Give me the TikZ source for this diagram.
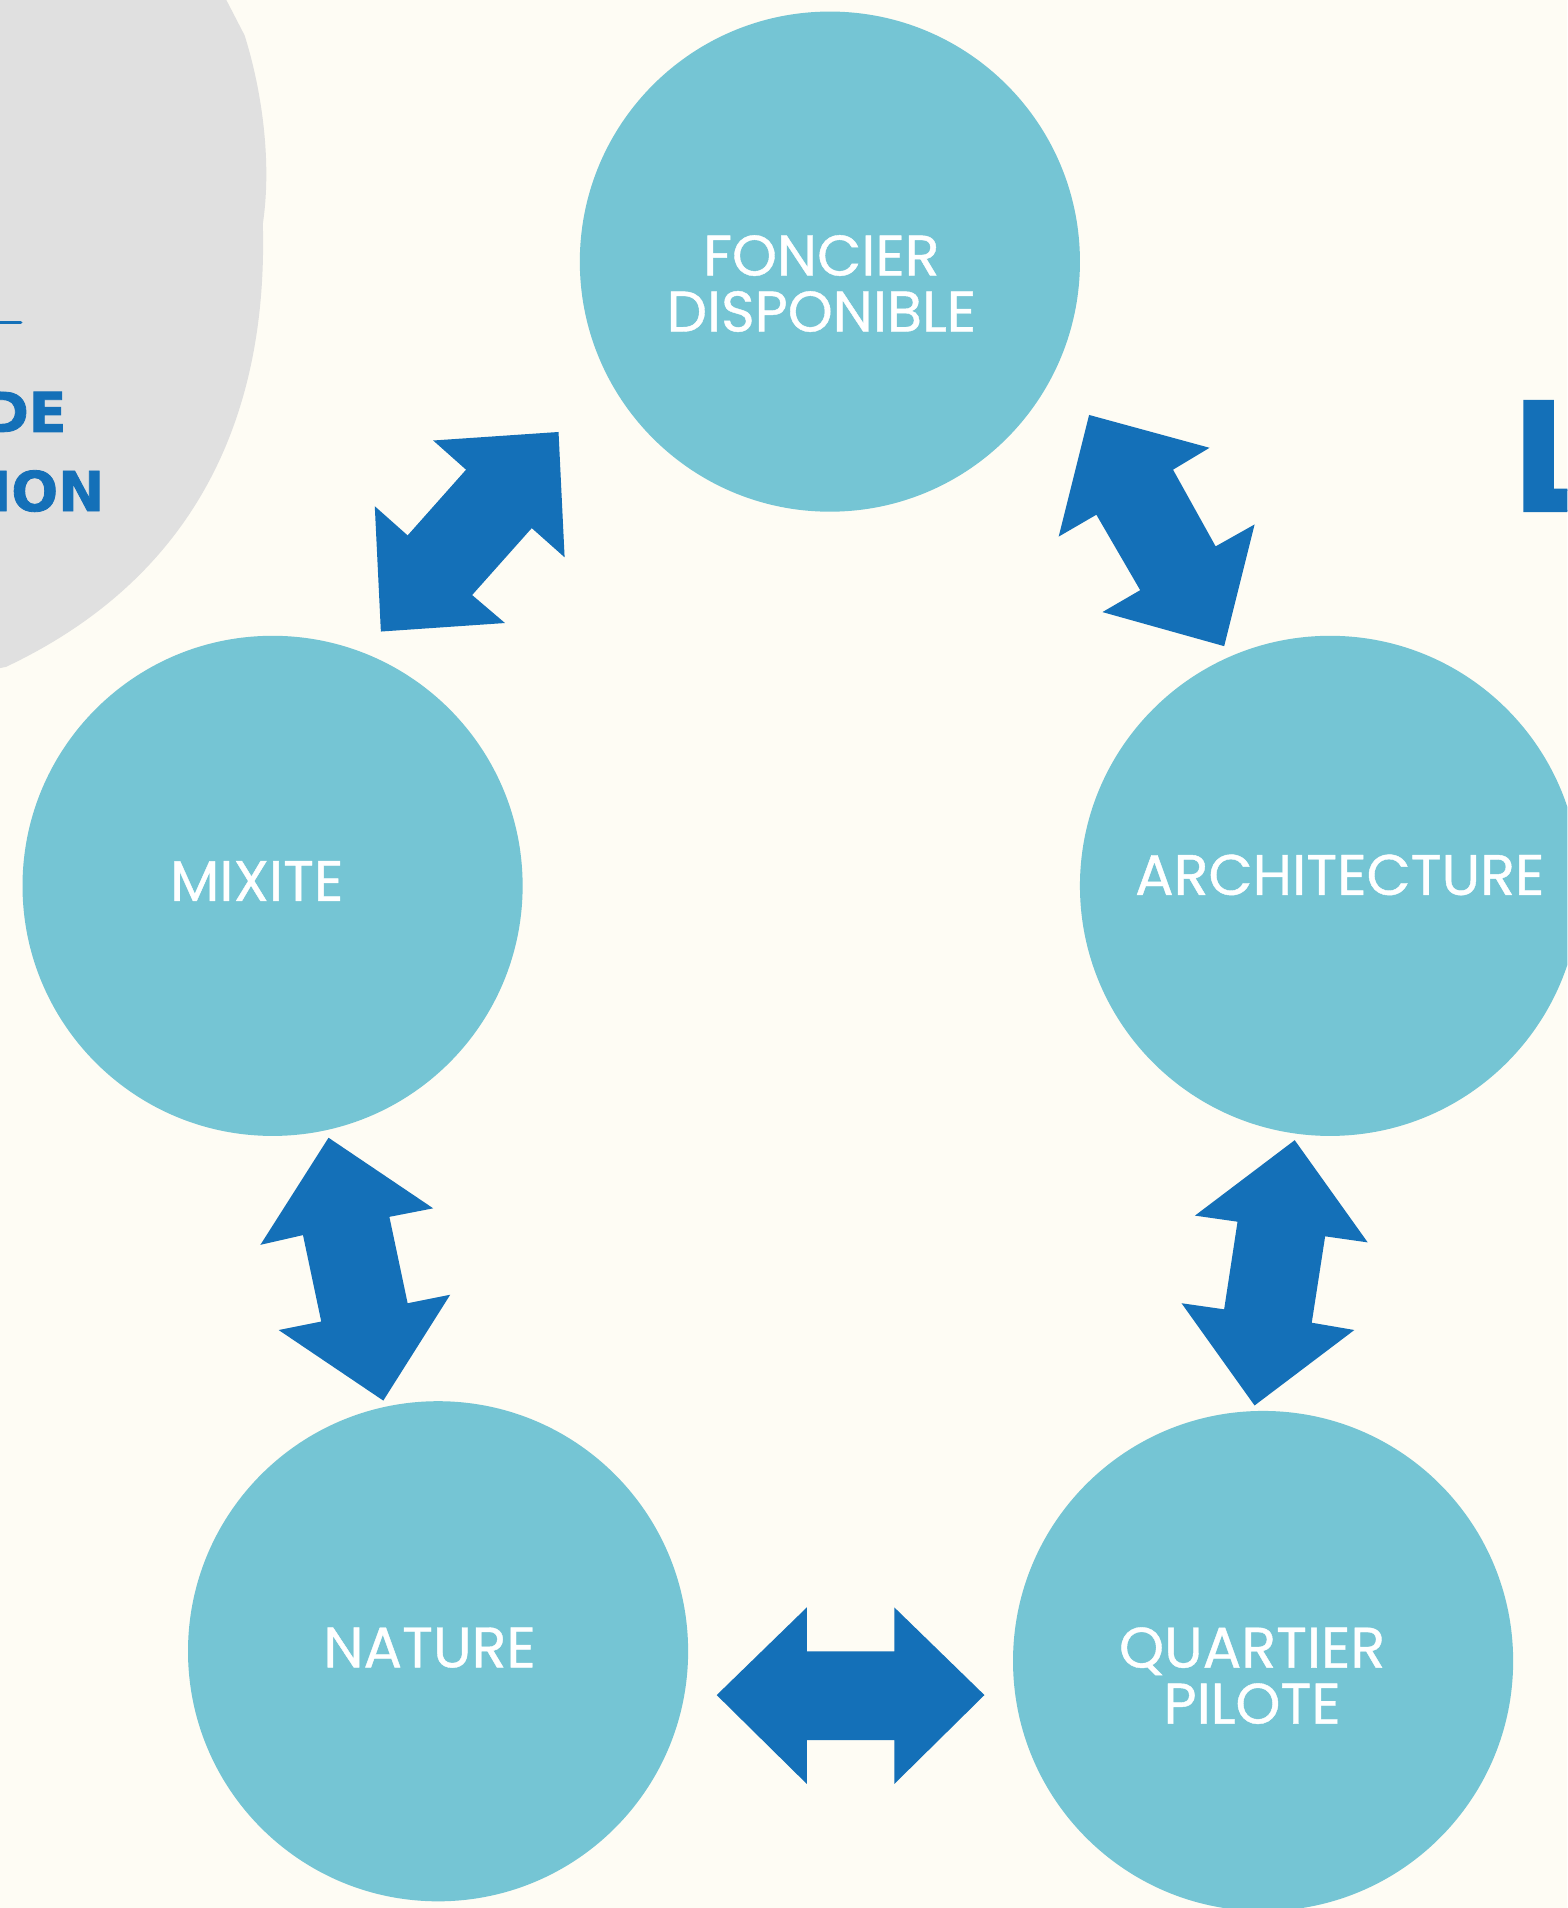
\documentclass[tikz,border=0pt]{standalone}
\usepackage{fontspec}
\setmainfont{Poppins}
\newfontfamily\lblfont{Poppins}[FakeBold=0.7]
\newfontfamily\heavyfont{DejaVu Sans}[FakeBold=1.5]
\definecolor{bgc}{HTML}{FEFCF4}
\definecolor{bubblec}{HTML}{75C5D4}
\definecolor{arrowc}{HTML}{1470B8}
\definecolor{greyc}{HTML}{E0E0E0}
\begin{document}
\begin{tikzpicture}[x=0.5pt,y=-0.5pt,
  bubble/.style={circle,fill=bubblec,minimum size=205.5pt,inner sep=0pt},
  lbl/.style={text=white,align=center,font=\lblfont\fontsize{23.5}{23}\selectfont},
  heavy/.style={text=arrowc,inner sep=0pt,font=\heavyfont\bfseries\fontsize{22.6}{22}\selectfont},
  blockarrow/.style={fill=arrowc}]
\useasboundingbox (0,0) rectangle (1288,1568);
\clip (0,0) rectangle (1288,1568);
\fill[bgc] (0,0) rectangle (1288,1568);
% grey backdrop
\fill[greyc] (0,0) -- (186,0) -- (201,29) .. controls (214,70) and (224,130) .. (216,184)
  .. controls (220,330) and (170,470) .. (5,548)
  -- (0,549) -- cycle;
\draw[arrowc,line width=1.5pt,line cap=round] (-5,265) -- (17,265);
\node[heavy,anchor=base east] (de) at (55,355) {DE};
\node[heavy,anchor=base east] (ion) at (86,420) {ION};
\node[heavy,anchor=base west,font=\heavyfont\bfseries\fontsize{62}{62}\selectfont] (bigL) at (1241,420) {L};
% bubbles
\node[bubble] (fon) at (682,215) {};
\node[bubble] (arc) at (1093,728) {};
\node[bubble] (mix) at (224,728) {};
\node[bubble] (nat) at (360,1357) {};
\node[bubble] (qua) at (1038,1365) {};
\node[lbl] (tfon) at (675,233) {FONCIER\\DISPONIBLE};
\node[lbl] (tarc) at (1101,719) {ARCHITECTURE};
\node[lbl] (tmix) at (211,724) {MIXITE};
\node[lbl] (tnat) at (353,1354) {NATURE};
\node[lbl] (tqua) at (1029,1377) {QUARTIER\\PILOTE};
% block arrows
\fill[blockarrow] (356,362) -- (459,355) -- (464,458) -- (437,434) -- (388,489) -- (415,512)
  -- (313,519) -- (308,416) -- (335,440) -- (383,386) -- cycle;
\fill[blockarrow] (895,341) -- (994,368) -- (964,386) -- (999,449) -- (1031,431) -- (1006,531)
  -- (906,503) -- (937,485) -- (901,423) -- (870,441) -- cycle;
\fill[blockarrow] (270,935) -- (356,993) -- (320,1000) -- (335,1071) -- (370,1064) -- (315,1151)
  -- (229,1093) -- (264,1086) -- (249,1015) -- (214,1023) -- cycle;
\fill[blockarrow] (1064,937) -- (1124,1021) -- (1089,1016) -- (1078,1087) -- (1113,1093) -- (1031,1155)
  -- (971,1071) -- (1006,1076) -- (1017,1004) -- (982,999) -- cycle;
\fill[blockarrow] (589,1393) -- (663,1321) -- (663,1357) -- (735,1357) -- (735,1321) -- (809,1393)
  -- (735,1466) -- (735,1430) -- (663,1430) -- (663,1466) -- cycle;
\end{tikzpicture}
\end{document}
